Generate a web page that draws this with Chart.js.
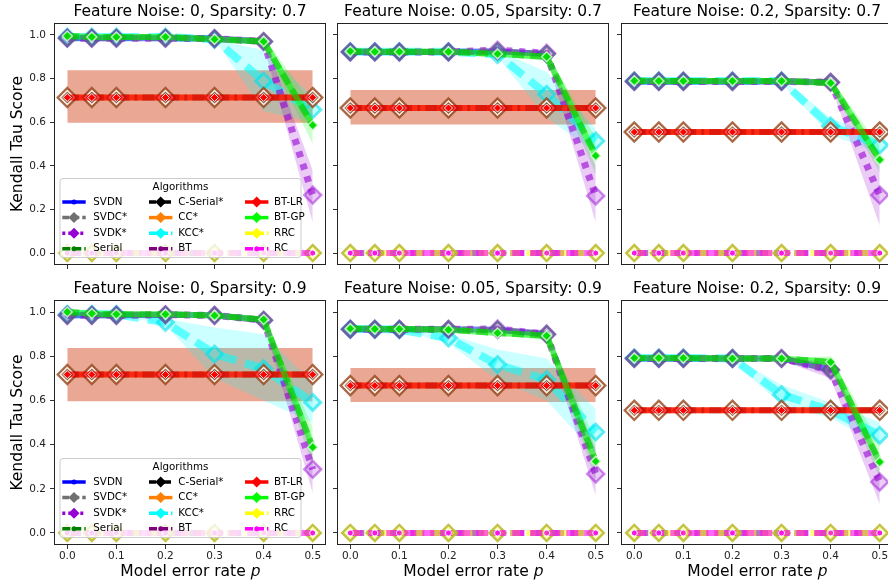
<!DOCTYPE html>
<html>
<head>
<meta charset="utf-8">
<script src="https://cdn.jsdelivr.net/npm/chart.js@4.4.1/dist/chart.umd.min.js"></script>
<style>
  html, body { margin: 0; padding: 0; background: #fff; }
  #wrap { position: relative; width: 888px; height: 584px; overflow: hidden; }
  #wrap canvas { position: absolute; }
</style>
</head>
<body>
<div id="wrap"></div>
<script>
// x values and panel labels
const errorRates = [0, 0.05, 0.1, 0.2, 0.3, 0.4, 0.5];
const featureNoise = ["0", "0.05", "0.2", "0", "0.05", "0.2"];
const sparsity = ["0.7", "0.7", "0.7", "0.9", "0.9", "0.9"];

// mean scores, one row per panel
const svdkScore = [
  [0.985, 0.985, 0.985, 0.985, 0.983, 0.970, 0.266],
  [0.922, 0.922, 0.922, 0.922, 0.930, 0.916, 0.262],
  [0.787, 0.787, 0.787, 0.787, 0.787, 0.783, 0.266],
  [0.985, 0.985, 0.985, 0.988, 0.985, 0.963, 0.288],
  [0.922, 0.922, 0.922, 0.922, 0.923, 0.900, 0.267],
  [0.790, 0.790, 0.790, 0.790, 0.790, 0.736, 0.231],
];
const svdcScore = [
  [0.985, 0.985, 0.985, 0.985, 0.983, 0.970, null],
  [0.922, 0.922, 0.922, 0.922, 0.925, 0.912, null],
  [0.787, 0.787, 0.787, 0.787, 0.787, 0.783, null],
  [0.985, 0.985, 0.985, 0.988, 0.985, 0.963, null],
  [0.922, 0.922, 0.922, 0.922, 0.920, 0.900, null],
  [0.790, 0.790, 0.790, 0.790, 0.790, 0.740, null],
];
const svdnScore = svdcScore;
const serialScore = [
  [0.995, 0.990, 0.990, 0.990, 0.980, 0.970, 0.586],
  [0.925, 0.923, 0.923, 0.923, 0.913, 0.900, 0.446],
  [0.790, 0.789, 0.789, 0.789, 0.789, 0.780, 0.428],
  [1.000, 0.993, 0.990, 0.990, 0.984, 0.966, 0.388],
  [0.925, 0.923, 0.923, 0.920, 0.905, 0.893, 0.324],
  [0.792, 0.792, 0.792, 0.790, 0.790, 0.774, 0.321],
];
const btgpScore = serialScore;
const kccScore = [
  [0.990, 0.990, 0.990, 0.990, 0.980, 0.788, 0.657],
  [0.923, 0.923, 0.923, 0.923, 0.910, 0.728, 0.514],
  [0.789, 0.789, 0.789, 0.789, 0.789, 0.582, 0.495],
  [0.990, 0.990, 0.990, 0.953, 0.810, 0.744, 0.591],
  [0.923, 0.923, 0.920, 0.882, 0.762, 0.694, 0.457],
  [0.792, 0.792, 0.792, 0.790, 0.626, 0.555, 0.442],
];
const ccScore = [
  [0.713, 0.713, 0.713, 0.713, 0.713, 0.713, 0.713],
  [0.665, 0.665, 0.665, 0.665, 0.665, 0.665, 0.665],
  [0.555, 0.555, 0.555, 0.555, 0.555, 0.555, 0.555],
  [0.717, 0.717, 0.717, 0.717, 0.717, 0.717, 0.717],
  [0.667, 0.667, 0.667, 0.667, 0.667, 0.667, 0.667],
  [0.555, 0.555, 0.555, 0.555, 0.555, 0.555, 0.555],
];
const cserialScore = ccScore;
const btlrScore = ccScore;
const zeroScore = [
  [0, 0, 0, 0, 0, 0, 0],
  [0, 0, 0, 0, 0, 0, 0],
  [0, 0, 0, 0, 0, 0, 0],
  [0, 0, 0, 0, 0, 0, 0],
  [0, 0, 0, 0, 0, 0, 0],
  [0, 0, 0, 0, 0, 0, 0],
];

// spread bands (upper / lower)
const ccHigh = [
  [0.838, 0.838, 0.838, 0.838, 0.838, 0.838, 0.838],
  [0.747, 0.747, 0.747, 0.747, 0.747, 0.747, 0.747],
  [0.565, 0.565, 0.565, 0.565, 0.565, 0.565, 0.565],
  [0.837, 0.837, 0.837, 0.837, 0.837, 0.837, 0.837],
  [0.747, 0.747, 0.747, 0.747, 0.747, 0.747, 0.747],
  [0.565, 0.565, 0.565, 0.565, 0.565, 0.565, 0.565],
];
const ccLow = [
  [0.597, 0.597, 0.597, 0.597, 0.597, 0.597, 0.597],
  [0.589, 0.589, 0.589, 0.589, 0.589, 0.589, 0.589],
  [0.545, 0.545, 0.545, 0.545, 0.545, 0.545, 0.545],
  [0.596, 0.596, 0.596, 0.596, 0.596, 0.596, 0.596],
  [0.593, 0.593, 0.593, 0.593, 0.593, 0.593, 0.593],
  [0.545, 0.545, 0.545, 0.545, 0.545, 0.545, 0.545],
];
const kccHigh = [
  [0.990, 0.990, 0.990, 0.990, 0.980, 0.930, 0.720],
  [0.923, 0.923, 0.923, 0.923, 0.930, 0.830, 0.570],
  [0.789, 0.789, 0.789, 0.789, 0.800, 0.620, 0.530],
  [0.990, 0.990, 0.990, 0.970, 0.930, 0.900, 0.680],
  [0.923, 0.923, 0.923, 0.900, 0.830, 0.790, 0.560],
  [0.792, 0.792, 0.792, 0.800, 0.670, 0.590, 0.500],
];
const kccLow = [
  [0.990, 0.990, 0.990, 0.990, 0.980, 0.650, 0.600],
  [0.923, 0.923, 0.923, 0.923, 0.900, 0.620, 0.460],
  [0.789, 0.789, 0.789, 0.789, 0.780, 0.540, 0.460],
  [0.990, 0.990, 0.990, 0.940, 0.700, 0.600, 0.500],
  [0.923, 0.923, 0.920, 0.860, 0.690, 0.600, 0.360],
  [0.792, 0.792, 0.792, 0.780, 0.580, 0.520, 0.400],
];
const gpHigh = [
  [0.995, 0.990, 0.990, 0.990, 0.980, 0.990, 0.680],
  [0.925, 0.923, 0.923, 0.923, 0.920, 0.920, 0.530],
  [0.790, 0.789, 0.789, 0.789, 0.790, 0.800, 0.490],
  [1.000, 0.993, 0.990, 0.990, 0.990, 0.980, 0.480],
  [0.925, 0.923, 0.923, 0.920, 0.910, 0.910, 0.420],
  [0.792, 0.792, 0.792, 0.790, 0.790, 0.800, 0.400],
];
const gpLow = [
  [0.995, 0.990, 0.990, 0.990, 0.980, 0.950, 0.500],
  [0.925, 0.923, 0.923, 0.923, 0.905, 0.880, 0.360],
  [0.790, 0.789, 0.789, 0.789, 0.789, 0.760, 0.370],
  [1.000, 0.993, 0.990, 0.990, 0.980, 0.950, 0.300],
  [0.925, 0.923, 0.923, 0.920, 0.900, 0.870, 0.240],
  [0.792, 0.792, 0.792, 0.790, 0.790, 0.750, 0.250],
];
const svdkHigh = [
  [0.985, 0.985, 0.985, 0.985, 0.983, 0.990, 0.380],
  [0.922, 0.922, 0.922, 0.922, 0.930, 0.930, 0.400],
  [0.787, 0.787, 0.787, 0.787, 0.787, 0.800, 0.400],
  [0.985, 0.985, 0.985, 0.988, 0.985, 0.980, 0.400],
  [0.922, 0.922, 0.922, 0.922, 0.923, 0.920, 0.380],
  [0.790, 0.790, 0.790, 0.790, 0.800, 0.770, 0.340],
];
const svdkLow = [
  [0.985, 0.985, 0.985, 0.985, 0.983, 0.950, 0.140],
  [0.922, 0.922, 0.922, 0.922, 0.930, 0.900, 0.140],
  [0.787, 0.787, 0.787, 0.787, 0.787, 0.770, 0.125],
  [0.985, 0.985, 0.985, 0.988, 0.985, 0.950, 0.180],
  [0.922, 0.922, 0.922, 0.922, 0.923, 0.880, 0.170],
  [0.790, 0.790, 0.790, 0.790, 0.780, 0.700, 0.130],
];

const FONT = "'DejaVu Sans', sans-serif";

// drawing styles, in legend order (z = draw order, higher drawn first)
const algorithms = [
  { name: "SVDN", rgb: "0,0,255", alpha: 0.5, width: 6, dash: [], legendDash: [], marker: "o", z: 50,
    scores: svdnScore, radius: 2.5, face: "rgba(0,0,255,0.7)", edge: "rgba(0,0,255,0.7)", edgeWidth: 0 },
  { name: "SVDC*", rgb: "112,112,112", alpha: 0.55, width: 6, dash: [10, 6], legendDash: [7, 3], marker: "D", z: 49,
    scores: svdcScore, radius: 8, face: "rgba(128,128,128,0.2)", edge: "rgba(85,95,140,0.75)", edgeWidth: 2.5 },
  { name: "SVDK*", rgb: "148,0,211", alpha: 0.6, width: 7, dash: [6, 7], legendDash: [3, 3], marker: "D", z: 49.5,
    scores: svdkScore, radius: 8.5, face: "rgba(148,0,211,0.2)", edge: "rgba(148,0,211,0.45)", edgeWidth: 2.5 },
  { name: "Serial", rgb: "0,128,0", alpha: 0.55, width: 6, dash: [12, 6], legendDash: [8, 3], marker: "o", z: 47,
    scores: serialScore, radius: 2.5, face: "rgba(0,128,0,0.7)", edge: "rgba(0,128,0,0.7)", edgeWidth: 0 },
  { name: "C-Serial*", rgb: "0,0,0", alpha: 0.4, width: 6, dash: [12, 5, 3, 5], legendDash: [7, 3, 2, 3], marker: "D", z: 44.5,
    scores: cserialScore, radius: 7, face: "rgba(0,0,0,0.3)", edge: "rgba(255,255,255,0.9)", edgeWidth: 1.5 },
  { name: "CC*", rgb: "255,127,0", alpha: 0.55, width: 6, dash: [], legendDash: [], marker: "D", z: 45,
    scores: ccScore, radius: 9.5, face: "rgba(205,95,25,0.55)", edge: "rgba(150,75,35,0.8)", edgeWidth: 2.5 },
  { name: "KCC*", rgb: "0,255,255", alpha: 0.55, width: 8, dash: [18, 9], legendDash: [8, 3], marker: "D", z: 60,
    scores: kccScore, radius: 8, face: "rgba(0,255,255,0.25)", edge: "rgba(0,225,235,0.6)", edgeWidth: 3 },
  { name: "BT", rgb: "128,0,128", alpha: 0.55, width: 6, dash: [14, 6], legendDash: [8, 3], marker: "o", z: 43,
    scores: zeroScore, radius: 2.5, face: "rgba(128,0,128,0.7)", edge: "rgba(128,0,128,0.7)", edgeWidth: 0 },
  { name: "BT-LR", rgb: "255,0,0", alpha: 0.7, width: 6, dash: [], legendDash: [], marker: "D", z: 42,
    scores: btlrScore, radius: 4, face: "rgba(255,0,0,0.95)", edge: "rgba(255,255,255,0.9)", edgeWidth: 1 },
  { name: "BT-GP", rgb: "0,255,0", alpha: 0.55, width: 6, dash: [], legendDash: [], marker: "D", z: 41,
    scores: btgpScore, radius: 5, face: "rgba(0,225,0,0.9)", edge: "rgba(220,255,220,0.8)", edgeWidth: 1.5 },
  { name: "RRC", rgb: "255,255,0", alpha: 0.5, width: 6, dash: [10, 6], legendDash: [8, 3], marker: "D", z: 40,
    scores: zeroScore, radius: 8, face: "rgba(255,255,0,0.25)", edge: "rgba(185,185,40,0.85)", edgeWidth: 2.5 },
  { name: "RC", rgb: "255,0,255", alpha: 0.6, width: 6, dash: [12, 6], legendDash: [8, 3], marker: "o", z: 39,
    scores: zeroScore, radius: 3, face: "rgba(255,0,255,0.7)", edge: "rgba(255,255,255,0.9)", edgeWidth: 1 },
];

const bands = [
  { high: ccHigh, low: ccLow, color: "rgba(215,95,60,0.55)" },
  { high: kccHigh, low: kccLow, color: "rgba(0,255,255,0.2)" },
  { high: gpHigh, low: gpLow, color: "rgba(0,255,0,0.2)" },
  { high: svdkHigh, low: svdkLow, color: "rgba(148,0,211,0.2)" },
];

function pts(vals) {
  return errorRates.map((x, i) => ({ x: x, y: vals[i] }));
}

function buildDatasets(p) {
  const sets = [];
  bands.forEach((b, k) => {
    sets.push({ data: pts(b.high[p]), yAxisID: "y", borderWidth: 0, borderColor: "transparent",
      pointRadius: 0, fill: false, order: 200 - 2 * k });
    sets.push({ data: pts(b.low[p]), yAxisID: "y", borderWidth: 0, borderColor: "transparent",
      pointRadius: 0, fill: "-1", backgroundColor: b.color, order: 199 - 2 * k });
  });
  algorithms.forEach((a) => {
    sets.push({
      label: a.name,
      data: pts(a.scores[p]),
      yAxisID: "y",
      borderColor: "rgba(" + a.rgb + "," + a.alpha + ")",
      borderWidth: a.width,
      borderDash: a.dash,
      pointStyle: a.marker === "D" ? "rectRot" : "circle",
      pointRadius: a.radius,
      pointBackgroundColor: a.face,
      pointBorderColor: a.edge,
      pointBorderWidth: a.edgeWidth,
      fill: false,
      tension: 0,
      order: a.z,
    });
  });
  return sets;
}

// full box round the plot, like matplotlib spines
const framePlugin = {
  id: "frame",
  afterDraw(chart) {
    const { ctx, chartArea: a } = chart;
    ctx.save();
    ctx.strokeStyle = "#222";
    ctx.lineWidth = 1;
    ctx.strokeRect(Math.round(a.left) - 0.5, Math.round(a.top) - 0.5,
      Math.round(a.right - a.left) + 1, Math.round(a.bottom - a.top) + 1);
    ctx.restore();
  },
};

// 3-column legend box inside the plot
const legendPlugin = {
  id: "algoLegend",
  afterDatasetsDraw(chart, args, opts) {
    if (!opts.display) return;
    const { ctx, chartArea: a } = chart;
    const w = 241, h = 79;
    const x0 = a.left + 5, y0 = a.bottom - 6.5 - h;
    ctx.save();
    ctx.beginPath();
    ctx.roundRect(x0, y0, w, h, 3);
    ctx.fillStyle = "rgba(255,255,255,0.8)";
    ctx.fill();
    ctx.strokeStyle = "#cccccc";
    ctx.lineWidth = 1;
    ctx.stroke();

    ctx.font = "10.3px " + FONT;
    ctx.fillStyle = "#000";
    ctx.textBaseline = "middle";
    ctx.textAlign = "center";
    ctx.fillText("Algorithms", x0 + w / 2, y0 + 9);

    const lineX = [2.3, 89, 185];
    const textX = [33.3, 118.3, 214];
    algorithms.forEach((s, i) => {
      const col = Math.floor(i / 4), row = i % 4;
      const hx = x0 + lineX[col], ty = y0 + 23.5 + row * 15.6;
      ctx.strokeStyle = "rgb(" + s.rgb + ")";
      ctx.lineWidth = 3.5;
      ctx.setLineDash(s.legendDash);
      ctx.beginPath();
      ctx.moveTo(hx, ty);
      ctx.lineTo(hx + 23.4, ty);
      ctx.stroke();
      ctx.setLineDash([]);
      ctx.fillStyle = "rgb(" + s.rgb + ")";
      ctx.beginPath();
      const mx = hx + 11.7;
      if (s.marker === "D") {
        const r = 5.5;
        ctx.moveTo(mx - r, ty);
        ctx.lineTo(mx, ty - r);
        ctx.lineTo(mx + r, ty);
        ctx.lineTo(mx, ty + r);
        ctx.closePath();
      } else {
        ctx.arc(mx, ty, 2.5, 0, Math.PI * 2);
      }
      ctx.fill();
      ctx.fillStyle = "#000";
      ctx.textAlign = "left";
      ctx.fillText(s.name, x0 + textX[col], ty);
    });
    ctx.restore();
  },
};

const colLeft = [0, 283, 567];
const rowTop = [0, 277];
const rowHeight = [276, 307];
const wrap = document.getElementById("wrap");

for (let p = 0; p < 6; p++) {
  const row = Math.floor(p / 3), col = p % 3;
  const cv = document.createElement("canvas");
  cv.width = 380;
  cv.height = rowHeight[row];
  cv.style.left = colLeft[col] + "px";
  cv.style.top = rowTop[row] + "px";
  cv.style.width = "380px";
  cv.style.height = rowHeight[row] + "px";
  wrap.appendChild(cv);

  const tickFont = { family: FONT, size: 10.5 };
  const bigFont = { family: FONT, size: 15.5, weight: "normal" };

  new Chart(cv, {
    type: "line",
    data: { datasets: buildDatasets(p) },
    options: {
      responsive: false,
      animation: false,
      events: [],
      plugins: {
        legend: { display: false },
        tooltip: { enabled: false },
        title: {
          display: true,
          text: "Feature Noise: " + featureNoise[p] + ", Sparsity: " + sparsity[p],
          font: bigFont,
          color: "#000",
          padding: { top: 3, bottom: 2.4 },
        },
        algoLegend: { display: col === 0 },
      },
      scales: {
        x: {
          type: "linear",
          min: -0.025,
          max: 0.525,
          afterFit: (s) => { s.height = row === 0 ? 9 : 40; s.paddingLeft = 0; s.paddingRight = 0; },
          ticks: {
            stepSize: 0.1, includeBounds: false, display: row === 1, autoSkip: false,
            maxRotation: 0, padding: 1, font: tickFont, color: "#222",
            callback: (v) => v.toFixed(1),
          },
          grid: { display: true, drawOnChartArea: false, drawTicks: true, tickLength: 5, tickColor: "#333", tickWidth: 1 },
          border: { display: false },
          title: { display: row === 1, text: "Model error rate 𝑝", font: bigFont, color: "#000", padding: { top: 0, bottom: 3 } },
        },
        y: {
          type: "linear",
          position: "left",
          min: -0.05,
          max: 1.05,
          afterFit: (s) => { s.width = 55; s.paddingTop = 0; s.paddingBottom = 0; },
          ticks: {
            stepSize: 0.2, includeBounds: false, display: col === 0, padding: 4,
            font: tickFont, color: "#222", callback: (v) => v.toFixed(1),
          },
          grid: { display: true, drawOnChartArea: false, drawTicks: true, tickLength: 5, tickColor: "#333", tickWidth: 1 },
          border: { display: false },
          title: { display: col === 0, text: "Kendall Tau Score", font: bigFont, color: "#000", padding: { top: 9, bottom: 0 } },
        },
        yPad: {
          type: "linear",
          position: "right",
          afterFit: (s) => { s.width = 55; s.paddingTop = 0; s.paddingBottom = 0; },
          ticks: { display: false },
          grid: { display: false },
          border: { display: false },
        },
      },
    },
    plugins: [framePlugin, legendPlugin],
  });
}
</script>
</body>
</html>
